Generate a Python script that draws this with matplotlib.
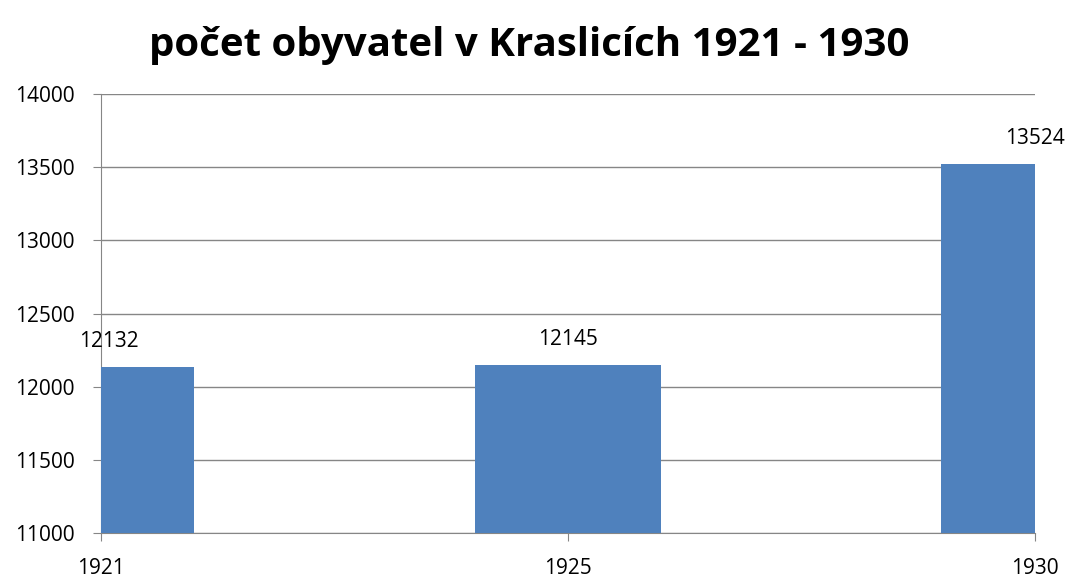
import matplotlib.pyplot as plt
import numpy as np

years = ['1921', '1925', '1930']
population = [12132, 12145, 13524]

plt.rcParams['font.family'] = ['Open Sans', 'DejaVu Sans']

fig = plt.figure(figsize=(10.69, 5.78), dpi=100)
ax = fig.add_axes([0.0945, 0.078, 0.8735, 0.759])

x = np.arange(len(years))
bars = ax.bar(x, population, width=0.4, color='#4f81bd', zorder=3)

ax.set_xlim(0, len(years) - 1)
ax.set_ylim(11000, 14000)
ax.set_yticks(np.arange(11000, 14001, 500))
ax.set_xticks(x)
ax.set_xticklabels(years)
ax.tick_params(axis='both', labelsize=15, color='#868686', length=6)
ax.tick_params(axis='x', pad=12)
ax.tick_params(axis='y', pad=13)
ax.grid(axis='y', color='#868686', linewidth=1, zorder=0)

for s in ['top', 'right']:
    ax.spines[s].set_visible(False)
for s in ['left', 'bottom']:
    ax.spines[s].set_color('#868686')

offsets = [6, 0, 0]
for xi, v, dx in zip(x, population, offsets):
    ax.annotate(str(v), (xi, v), xytext=(dx, 11), textcoords='offset points',
                ha='center', va='bottom', fontsize=15, clip_on=False)

fig.suptitle('počet obyvatel v Kraslicích 1921 - 1930', x=0.495, y=0.955,
             fontsize=29, fontweight='bold')

fig.savefig('out.png', dpi=100)
